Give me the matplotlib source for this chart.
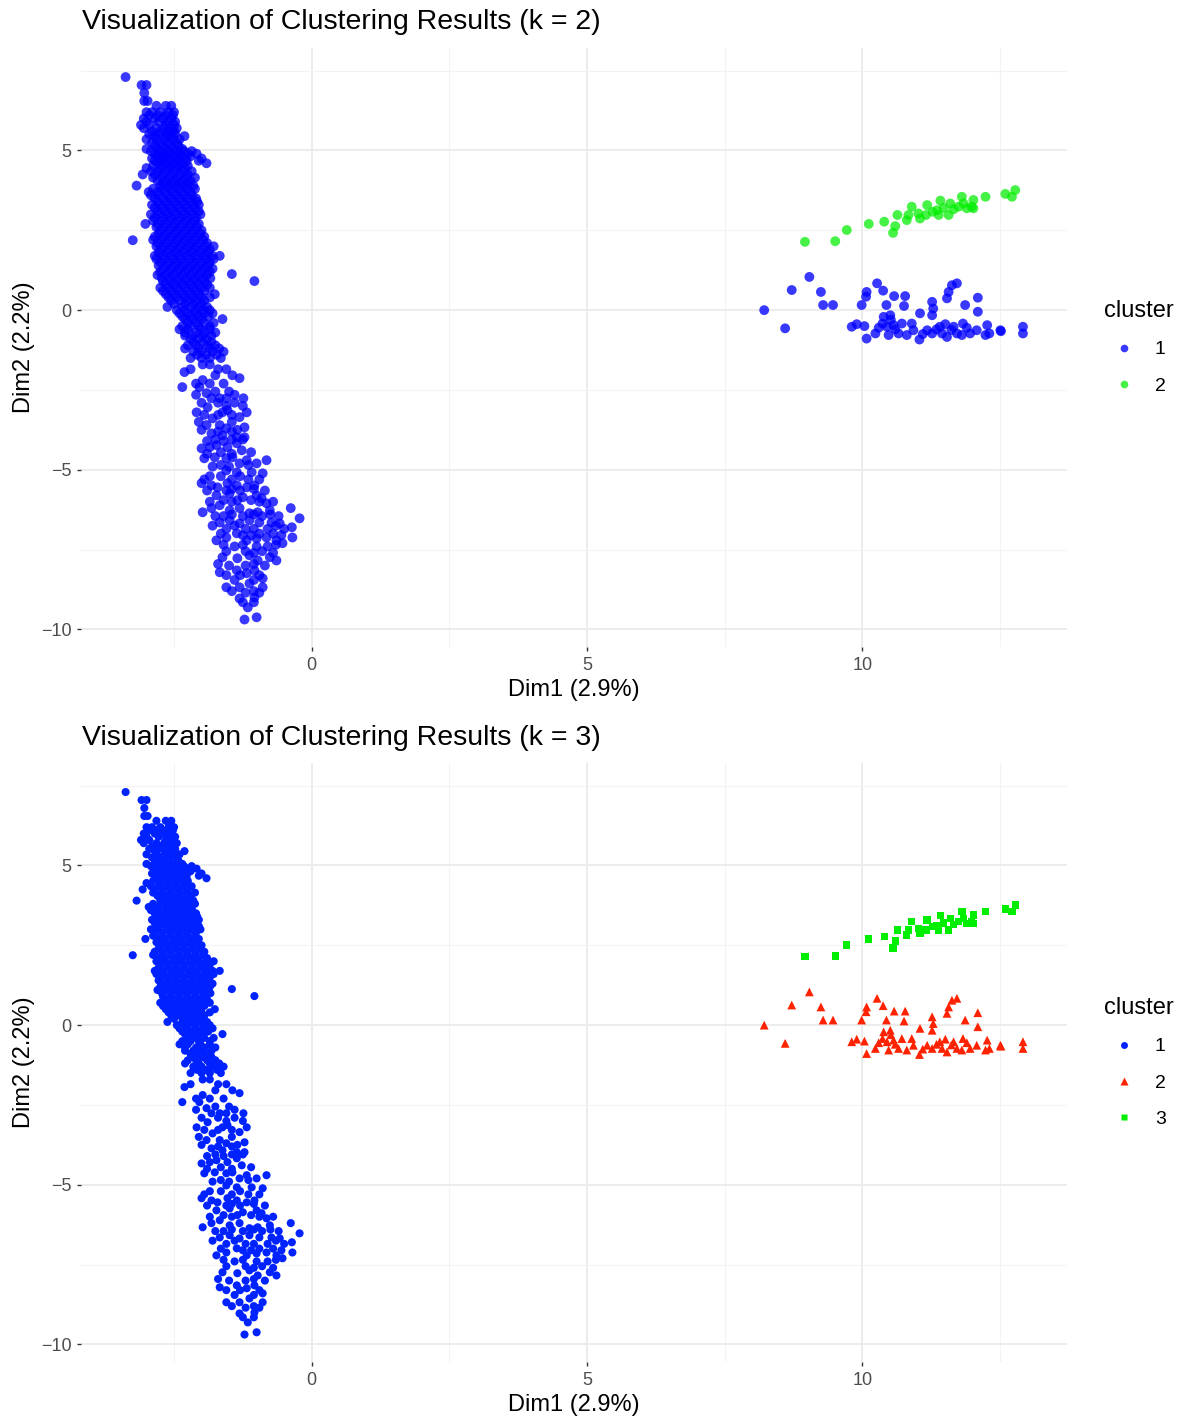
import numpy as np
import matplotlib.pyplot as plt
from matplotlib.lines import Line2D
from matplotlib.ticker import FixedLocator

plt.rcParams['font.family'] = ['Liberation Sans', 'DejaVu Sans']

# points, by rows: (Dim2, [Dim1 values])
left_top_rows = [
    (7.30, [-3.38]), (7.05, [-3.09, -3.00]), (6.80, [-3.04]), (6.55, [-3.04, -2.98]),
    (6.40, [-2.82, -2.65, -2.55]), (6.20, [-3.00, -2.90, -2.75, -2.60, -2.50]),
    (6.00, [-3.05, -2.85, -2.70, -2.55]), (5.80, [-3.10, -2.95, -2.65, -2.50]),
    (5.60, [-2.90, -2.75, -2.60, -2.50]), (5.45, [-2.85, -2.65, -2.55, -2.31]),
    (5.25, [-2.90, -2.75, -2.60, -2.45]), (5.05, [-3.00, -2.80, -2.65, -2.50, -2.35]),
    (4.90, [-2.85, -2.70, -2.55, -2.40, -2.25, -2.09]),
    (4.75, [-2.90, -2.75, -2.60, -2.45, -2.30, -2.00]),
    (4.60, [-2.80, -2.65, -2.50, -2.35, -1.91]),
    (4.45, [-3.00, -2.75, -2.60, -2.45, -2.30]),
    (4.25, [-3.07, -2.85, -2.70, -2.55, -2.40, -2.25]),
    (4.05, [-2.80, -2.65, -2.50, -2.35, -2.20]),
    (3.90, [-3.18, -2.75, -2.60, -2.45, -2.30, -2.15]),
    (3.70, [-2.96, -2.80, -2.65, -2.50, -2.35, -2.20]),
    (3.50, [-2.85, -2.70, -2.55, -2.40, -2.25, -2.10]),
    (3.30, [-2.90, -2.75, -2.60, -2.45, -2.30, -2.15, -2.05]),
    (3.10, [-2.80, -2.65, -2.50, -2.35, -2.20, -2.05]),
    (2.90, [-2.85, -2.70, -2.55, -2.40, -2.25, -2.10]),
    (2.70, [-3.02, -2.80, -2.65, -2.50, -2.35, -2.20, -2.05]),
    (2.50, [-2.75, -2.60, -2.45, -2.30, -2.15, -2.00]),
    (2.30, [-2.85, -2.70, -2.55, -2.40, -2.25, -2.10, -1.95]),
    (2.19, [-3.25]),
    (2.10, [-2.80, -2.65, -2.50, -2.35, -2.20, -2.05, -1.90]),
    (1.90, [-2.75, -2.60, -2.45, -2.30, -2.15, -2.00, -1.85]),
    (1.70, [-2.85, -2.70, -2.55, -2.40, -2.25, -2.10, -1.95, -1.80, -1.67]),
    (1.50, [-2.75, -2.60, -2.45, -2.30, -2.15, -2.00, -1.85]),
    (1.30, [-2.70, -2.55, -2.40, -2.25, -2.10, -1.95, -1.80]),
    (1.13, [-1.45]),
    (1.10, [-2.80, -2.65, -2.50, -2.35, -2.20, -2.05, -1.90]),
    (0.91, [-1.04]),
    (0.90, [-2.70, -2.55, -2.40, -2.25, -2.10, -1.95]),
    (0.70, [-2.75, -2.60, -2.45, -2.30, -2.15, -2.00, -1.85]),
    (0.50, [-2.65, -2.50, -2.35, -2.20, -2.05, -1.76]),
    (0.30, [-2.55, -2.40, -2.25, -2.10, -1.95]),
    (0.10, [-2.62, -2.35, -2.20, -2.05, -1.90]),
]

# the dense core has points between the rows above as well
left_core_rows = [
    (6.10, [-2.95, -2.80, -2.65, -2.52]), (5.90, [-3.00, -2.78, -2.62, -2.48]),
    (5.70, [-3.05, -2.82, -2.68, -2.55, -2.45]), (5.52, [-2.95, -2.78, -2.62, -2.48]),
    (5.35, [-3.00, -2.82, -2.68, -2.52, -2.40]), (5.15, [-2.85, -2.72, -2.58, -2.42]),
    (4.98, [-2.92, -2.78, -2.62, -2.47, -2.32, -2.18]), (4.82, [-2.80, -2.68, -2.52, -2.38, -2.20]),
    (4.68, [-2.85, -2.72, -2.57, -2.42, -2.27, -2.05]), (4.52, [-2.88, -2.72, -2.57, -2.42, -2.25]),
    (4.35, [-2.92, -2.78, -2.62, -2.47, -2.32, -2.18]), (4.15, [-2.88, -2.72, -2.57, -2.42, -2.27, -2.12]),
    (3.98, [-2.70, -2.55, -2.40, -2.25]), (3.80, [-2.88, -2.72, -2.57, -2.42, -2.27, -2.12]),
    (3.60, [-2.92, -2.78, -2.62, -2.47, -2.32, -2.17]), (3.40, [-2.80, -2.65, -2.50, -2.35, -2.20, -2.08]),
    (3.20, [-2.85, -2.72, -2.57, -2.42, -2.27, -2.12]),
    (3.00, [-2.92, -2.78, -2.62, -2.47, -2.32, -2.17, -2.02]),
    (2.80, [-2.88, -2.72, -2.57, -2.42, -2.27, -2.12]), (2.60, [-2.82, -2.68, -2.52, -2.38, -2.22, -2.08]),
    (2.40, [-2.78, -2.62, -2.47, -2.32, -2.17, -2.02]),
    (2.20, [-2.88, -2.72, -2.57, -2.42, -2.27, -2.12, -1.97]),
    (2.00, [-2.82, -2.68, -2.52, -2.38, -2.22, -2.08, -1.92, -1.78]),
    (1.80, [-2.78, -2.62, -2.47, -2.32, -2.17, -2.02, -1.88]),
    (1.60, [-2.82, -2.68, -2.52, -2.38, -2.22, -2.08, -1.92, -1.78]),
    (1.40, [-2.78, -2.62, -2.47, -2.32, -2.17, -2.02, -1.88]),
    (1.20, [-2.75, -2.60, -2.45, -2.30, -2.15, -2.00, -1.85]),
    (1.00, [-2.72, -2.57, -2.42, -2.27, -2.12, -1.97, -1.84]),
    (0.80, [-2.65, -2.50, -2.35, -2.20, -2.05, -1.90]), (0.60, [-2.70, -2.55, -2.40, -2.25, -2.10, -1.95]),
    (0.40, [-2.60, -2.45, -2.30, -2.15, -2.00, -1.85]), (0.20, [-2.50, -2.30, -2.15, -2.00]),
    (0.00, [-2.45, -2.30, -2.12, -1.97, -1.85]), (-0.20, [-2.35, -2.20, -2.05, -1.88]),
    (-0.40, [-2.25, -2.10, -1.95, -1.78]), (-0.60, [-2.40, -2.25, -2.02, -1.85]),
    (-0.80, [-2.30, -2.15, -1.98, -1.82]), (-1.00, [-2.15, -1.98, -1.82]),
    (-1.20, [-2.30, -2.05, -1.85, -1.68]), (-1.40, [-2.08, -1.92, -1.72]),
]

left_mid_rows = [
    (-0.10, [-2.40, -2.25, -2.10, -1.95, -1.80]), (-0.28, [-2.30, -2.15, -2.00, -1.62]),
    (-0.50, [-2.35, -2.20, -2.05, -1.85]), (-0.70, [-2.30, -2.10, -1.95, -1.75]),
    (-0.90, [-2.20, -2.05, -1.90]), (-1.10, [-2.25, -2.10, -1.90, -1.75]),
    (-1.30, [-2.15, -2.00, -1.80, -1.60]), (-1.50, [-2.20, -2.00, -1.85, -1.65]),
    (-1.70, [-1.98, -1.85]), (-1.94, [-2.31]), (-2.04, [-1.75, -1.44]), (-2.13, [-1.31]),
    (-2.19, [-1.98]), (-2.30, [-2.10, -1.85, -1.60]), (-2.41, [-2.35, -2.04]),
    (-2.55, [-1.75, -1.50]), (-2.60, [-1.91]), (-2.76, [-1.82, -1.67, -1.55, -1.24]),
    (-2.90, [-2.00, -1.70, -1.40]), (-3.04, [-1.89]), (-3.13, [-1.53]),
    (-3.20, [-2.09, -1.62, -1.18]), (-3.35, [-1.31]), (-3.39, [-1.80]),
    (-3.50, [-2.05, -1.45]), (-3.60, [-1.91, -1.67]), (-3.67, [-1.22]), (-3.70, [-1.55]),
    (-3.80, [-1.70, -1.45]), (-3.86, [-1.82]), (-3.92, [-1.62]), (-3.98, [-1.36, -1.22]),
    (-4.10, [-1.90, -1.60]), (-4.17, [-1.36]), (-4.23, [-1.73]), (-4.29, [-1.85, -1.53]),
    (-4.33, [-2.00]), (-4.39, [-1.27]), (-4.45, [-1.65, -1.10]),
]

left_low_rows = [
    (-4.61, [-1.76, -1.44]), (-4.64, [-1.95, -1.55]), (-4.70, [-1.18, -0.82]),
    (-4.80, [-1.31, -1.00]), (-4.90, [-1.80, -1.50]), (-5.02, [-1.55]),
    (-5.08, [-1.36, -1.09]), (-5.11, [-0.89]), (-5.20, [-1.85, -1.65, -1.30]),
    (-5.42, [-2.00, -1.53]), (-5.49, [-1.82, -1.36, -1.04]), (-5.55, [-1.71, -1.18]),
    (-5.65, [-1.90, -1.55, -1.30, -0.85]), (-5.74, [-1.49]), (-5.80, [-1.73, -1.00]),
    (-5.86, [-1.25]), (-5.89, [-0.91]), (-5.95, [-1.60, -1.35, -1.10]), (-6.05, [-0.82]),
    (-6.11, [-1.67]), (-6.20, [-1.82, -1.31, -0.38]), (-6.27, [-1.49, -0.76]),
    (-6.33, [-1.98, -0.98]), (-6.36, [-1.13]), (-6.45, [-1.75, -1.60, -1.25, -0.90, -0.60]),
    (-6.52, [-0.22]), (-6.58, [-1.49, -1.13]), (-6.65, [-1.67, -0.95, -0.73]),
    (-6.68, [-1.31, -0.58]), (-6.80, [-0.36]), (-6.85, [-1.55, -1.20, -1.05, -0.80, -0.50]),
    (-6.99, [-1.36]), (-7.00, [-1.65, -0.95, -0.70]), (-7.12, [-1.55, -0.82, -0.35]),
    (-7.15, [-1.00]), (-7.21, [-1.73, -1.18, -0.64]), (-7.30, [-0.53]),
    (-7.40, [-1.40, -1.00, -0.80]), (-7.55, [-1.55, -1.20, -0.90]), (-7.68, [-1.13]),
    (-7.74, [-1.62, -0.76]), (-7.77, [-1.35]), (-7.84, [-0.98, -0.64]),
    (-8.00, [-1.50, -1.20, -0.85]), (-8.15, [-1.36, -1.04]), (-8.21, [-1.67]),
    (-8.24, [-1.18]), (-8.40, [-0.89]), (-8.45, [-1.40, -1.05]), (-8.56, [-1.13]),
    (-8.68, [-1.55, -1.31, -0.89]), (-8.85, [-1.20, -0.95]), (-9.00, [-1.04]),
    (-9.03, [-1.31]), (-9.31, [-1.16]), (-9.62, [-1.00]), (-9.69, [-1.22]),
]

# extra points in the lower tail where the marks overlap
left_fill_rows = [
    (-1.85, [-2.20, -1.70, -1.55]), (-2.65, [-2.10, -1.40]), (-3.00, [-1.55, -1.25]),
    (-3.28, [-1.95, -1.70, -1.45]), (-3.75, [-2.00, -1.35]), (-4.05, [-1.75, -1.45, -1.25]),
    (-4.50, [-1.90, -1.45]), (-4.85, [-1.65, -1.15]), (-5.30, [-1.95, -1.45, -1.15, -0.95]),
    (-5.60, [-1.45, -1.05]), (-6.00, [-1.85, -1.45, -0.95, -0.70]), (-6.40, [-1.45, -1.05, -0.75]),
    (-6.75, [-1.80, -1.40, -0.65]), (-7.05, [-1.25, -1.10, -0.55]), (-7.35, [-1.60, -1.25, -0.65]),
    (-7.60, [-1.05, -0.70]), (-7.95, [-1.70, -1.05]), (-8.30, [-1.55, -1.30, -0.95]),
    (-8.80, [-1.45, -1.05]), (-9.15, [-1.25, -1.05]),
]

right_low_pts = [
    (8.22, 0.00), (8.60, -0.57), (8.72, 0.63), (9.04, 1.04), (9.25, 0.57), (9.29, 0.16),
    (9.47, 0.16), (9.81, -0.52), (9.90, -0.44), (10.04, -0.50), (9.99, 0.16), (10.07, 0.42),
    (10.08, 0.57), (10.08, -0.89), (10.27, 0.84), (10.38, 0.61), (10.24, -0.73), (10.44, 0.16),
    (10.39, -0.21), (10.51, -0.16), (10.58, 0.44), (10.45, -0.52), (10.48, -0.78), (10.57, -0.47),
    (10.66, -0.73), (10.78, 0.44), (10.76, 0.13), (10.72, -0.42), (10.81, -0.78), (10.90, -0.42),
    (10.93, -0.63), (11.05, -0.10), (11.04, -0.92), (11.18, -0.63), (11.27, -0.73), (11.27, 0.26),
    (11.29, 0.05), (11.27, -0.16), (11.41, -0.52), (11.45, -0.73), (11.51, -0.44), (11.54, 0.37),
    (11.57, 0.57), (11.63, 0.78), (11.72, 0.84), (11.54, -0.84), (11.66, -0.52), (11.72, -0.73),
    (11.83, -0.42), (11.87, 0.16), (11.81, -0.78), (11.96, -0.73), (12.10, 0.39), (12.10, -0.05),
    (12.08, -0.63), (12.24, -0.78), (12.27, -0.47), (12.31, -0.73), (12.51, -0.63), (12.52, -0.66),
    (12.92, -0.52), (12.92, -0.73), (10.37, -0.42), (10.60, -0.60), (11.35, -0.60), (11.62, -0.62),
    (11.90, -0.55), (10.52, -0.30), (11.10, -0.75), (10.30, -0.55),
]

right_up_pts = [
    (8.96, 2.14), (9.51, 2.16), (9.72, 2.51), (10.12, 2.70), (10.40, 2.77), (10.56, 2.42),
    (10.60, 2.63), (10.64, 2.98), (10.81, 2.82), (10.84, 2.98), (10.90, 3.24), (11.02, 3.03),
    (11.05, 2.87), (11.18, 3.29), (11.16, 2.98), (11.36, 3.13), (11.39, 2.98), (11.42, 3.43),
    (11.57, 2.98), (11.60, 3.34), (11.66, 3.16), (11.81, 3.55), (11.84, 3.34), (11.90, 3.19),
    (11.99, 3.24), (12.02, 3.45), (12.02, 3.19), (12.24, 3.55), (12.60, 3.64), (12.72, 3.55),
    (12.78, 3.76), (11.75, 3.24), (11.28, 3.08), (11.48, 3.20),
]

titles = ['Visualization of Clustering Results (k = 2)', 'Visualization of Clustering Results (k = 3)']
x_label = 'Dim1 (2.9%)'
y_label = 'Dim2 (2.2%)'
x_ticks = [0, 5, 10]
y_ticks = [-10, -5, 0, 5]


def rows_to_xy(rows):
    xs, ys = [], []
    for y, row in rows:
        for x in row:
            xs.append(x)
            ys.append(y)
    return np.array(xs), np.array(ys)


lx, ly = rows_to_xy(left_top_rows + left_core_rows + left_mid_rows + left_low_rows + left_fill_rows)
rlx, rly = np.array(right_low_pts).T
rux, ruy = np.array(right_up_pts).T

W, H = 1182, 1419
fig = plt.figure(figsize=(W / 100, H / 100), dpi=100)


def style_axes(ax, title, top_px):
    ax.set_xlim(-4.19, 13.72)
    ax.set_ylim(-10.55, 8.21)
    ax.xaxis.set_major_locator(FixedLocator(x_ticks))
    ax.yaxis.set_major_locator(FixedLocator(y_ticks))
    ax.xaxis.set_minor_locator(FixedLocator([-2.5, 2.5, 7.5, 12.5]))
    ax.yaxis.set_minor_locator(FixedLocator([-7.5, -2.5, 2.5, 7.5]))
    ax.grid(which='major', color='#ebebeb', lw=1.3)
    ax.grid(which='minor', color='#f3f3f3', lw=0.8)
    ax.set_axisbelow(True)
    for s in ax.spines.values():
        s.set_visible(False)
    ax.tick_params(which='major', length=3, width=1, color='#333333',
                   labelcolor='#4d4d4d', labelsize=13, pad=4)
    ax.tick_params(which='minor', length=0)
    ax.set_xlabel(x_label, fontsize=17, color='black', labelpad=4)
    ax.set_ylabel(y_label, fontsize=17, color='black', labelpad=4)
    fig.text(82 / W, 1 - top_px / H, title, fontsize=20.5, ha='left', va='center')


def add_legend(ax, handles, labels):
    ax.legend(handles, labels, title='cluster', loc='center left', bbox_to_anchor=(1.02, 0.5),
              frameon=False, fontsize=14, title_fontsize=17, labelspacing=0.95,
              handletextpad=0.6, alignment='left')


# panel 1 : k = 2
ax1 = fig.add_axes([81 / W, 1 - 647 / H, 986 / W, 599 / H])
blue2 = '#0000FF'
green2 = '#00EE00'
ax1.scatter(np.concatenate([lx, rlx]), np.concatenate([ly, rly]), s=50, color=blue2,
            alpha=0.78, edgecolors='none')
ax1.scatter(rux, ruy, s=50, color=green2, alpha=0.72, edgecolors='none')
style_axes(ax1, titles[0], 22)
h1 = [Line2D([], [], ls='', marker='o', ms=5.5, color=blue2, alpha=0.78, mec='none'),
      Line2D([], [], ls='', marker='o', ms=5.5, color=green2, alpha=0.72, mec='none')]
add_legend(ax1, h1, ['1', '2'])

# panel 2 : k = 3
ax2 = fig.add_axes([81 / W, 1 - 1362 / H, 986 / W, 599 / H])
blue3 = '#0022FF'
red3 = '#FF2200'
green3 = '#00EE00'
ax2.scatter(lx, ly, s=34, color=blue3, marker='o', edgecolors='none')
ax2.scatter(rlx, rly, s=40, color=red3, marker='^', edgecolors='none')
ax2.scatter(rux, ruy, s=28, color=green3, marker='s', edgecolors='none')
style_axes(ax2, titles[1], 738)
h2 = [Line2D([], [], ls='', marker='o', ms=5, color=blue3, mec='none'),
      Line2D([], [], ls='', marker='^', ms=5.5, color=red3, mec='none'),
      Line2D([], [], ls='', marker='s', ms=4.5, color=green3, mec='none')]
add_legend(ax2, h2, ['1', '2', '3'])

fig.savefig('out.png', dpi=100)
